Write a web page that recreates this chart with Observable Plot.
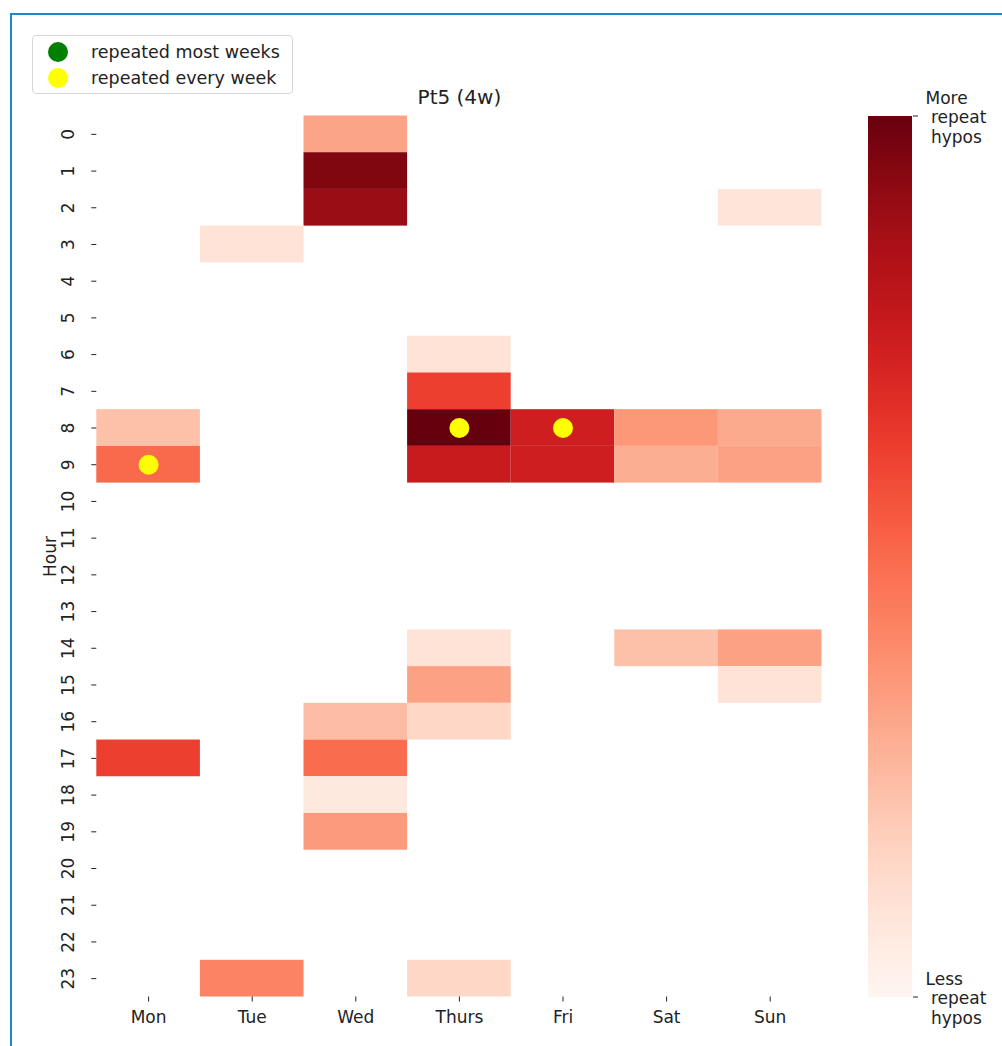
<!DOCTYPE html>
<html>
<head>
<meta charset="utf-8">
<script src="https://cdn.jsdelivr.net/npm/d3@7"></script>
<script src="https://cdn.jsdelivr.net/npm/@observablehq/plot@0.6"></script>
<style>
  html, body { margin: 0; padding: 0; background: #fff; }
  #wrap { position: relative; width: 1002px; height: 1046px; overflow: hidden; font-family: "DejaVu Sans", sans-serif; }
  #frame { position: absolute; left: 10px; top: 13px; width: 1100px; height: 1100px;
           border-left: 2px solid #1b8ac6; border-top: 2px solid #1b8ac6; }
  #main, #cbar { position: absolute; top: 0; }
  #main { left: 0; }
  #cbar { left: 868px; }
  #legend { position: absolute; left: 32px; top: 35px; width: 259px; height: 57px;
            border: 1px solid #d6d6d6; border-radius: 4px; background: rgba(255,255,255,0.85);
            font-size: 17.5px; color: #222; }
  .item { position: absolute; left: 0; height: 26px; display: flex; align-items: center; }
  .swatch { width: 20px; height: 20px; border-radius: 50%; margin-left: 15px; margin-right: 23px; }
</style>
</head>
<body>
<div id="wrap">
  <div id="frame"></div>
  <div id="main"></div>
  <div id="cbar"></div>
  <div id="legend"></div>
</div>
<script>
// Weekday columns and hour rows of the heatmap
const days = ["Mon", "Tue", "Wed", "Thurs", "Fri", "Sat", "Sun"];
const hours = [0, 1, 2, 3, 4, 5, 6, 7, 8, 9, 10, 11, 12, 13, 14, 15, 16, 17, 18, 19, 20, 21, 22, 23];

// Repeat-hypo intensity per filled cell (0 = less, 1 = more)
const cellDays  = ["Wed", "Wed", "Wed", "Sun", "Tue", "Thurs", "Thurs", "Mon", "Thurs", "Fri", "Sat", "Sun",
                   "Mon", "Thurs", "Fri", "Sat", "Sun", "Thurs", "Sat", "Sun", "Thurs", "Sun", "Wed", "Thurs",
                   "Mon", "Wed", "Wed", "Wed", "Tue", "Thurs"];
const cellHours = [0, 1, 2, 2, 3, 6, 7, 8, 8, 8, 8, 8,
                   9, 9, 9, 9, 9, 14, 14, 14, 15, 15, 16, 16,
                   17, 17, 18, 19, 23, 23];
const cellValues = [0.32, 0.95, 0.89, 0.09, 0.10, 0.10, 0.62, 0.23, 1.00, 0.74, 0.36, 0.30,
                    0.50, 0.76, 0.74, 0.29, 0.33, 0.10, 0.23, 0.33, 0.33, 0.10, 0.245, 0.15,
                    0.62, 0.49, 0.07, 0.35, 0.42, 0.15];

// Cells repeated every week
const everyWeekDays  = ["Mon", "Thurs", "Fri"];
const everyWeekHours = [9, 8, 8];

// Legend entries
const legendLabels = ["repeated most weeks", "repeated every week"];
const legendColors = ["#008000", "#ffff00"];

// Colour bar end labels
const cbarTicks  = [1, 0];
const cbarLabels = ["More\n\u00a0repeat\n\u00a0hypos", "Less\n\u00a0repeat\n\u00a0hypos"];

const cells = cellDays.map((d, i) => ({day: d, hour: cellHours[i], v: cellValues[i]}));
const everyWeek = everyWeekDays.map((d, i) => ({day: d, hour: everyWeekHours[i]}));

const FONT = "DejaVu Sans, sans-serif";
const colorScale = {type: "linear", scheme: "reds", domain: [0, 1]};

const main = Plot.plot({
  width: 1002,
  height: 1046,
  marginLeft: 96.3,
  marginRight: 180.5,
  marginTop: 115.5,
  marginBottom: 49.5,
  style: {fontFamily: FONT, fontSize: "17px", background: "transparent", color: "#222"},
  x: {type: "band", domain: days, padding: 0, round: false},
  y: {type: "band", domain: hours, padding: 0, round: false},
  color: colorScale,
  marks: [
    Plot.cell(cells, {x: "day", y: "hour", fill: "v", inset: 0}),
    Plot.dot(everyWeek, {x: "day", y: "hour", r: 10, fill: "#ffff00", stroke: null}),
    Plot.axisX({anchor: "bottom", tickSize: 5, tickPadding: 9, label: null}),
    Plot.axisY({anchor: "left", tickSize: 5, tickPadding: 18, tickRotate: -90, label: null}),
    Plot.text(["Hour"], {frameAnchor: "left", dx: -46, rotate: -90, textAnchor: "middle",
                         lineAnchor: "middle", fontSize: 17}),
    Plot.text(["Pt5 (4w)"], {frameAnchor: "top", dy: -18.5, lineAnchor: "middle", fontSize: 20})
  ]
});
document.getElementById("main").appendChild(main);

// Vertical colour bar
const steps = d3.range(256).map(i => ({y1: i / 256, y2: (i + 1) / 256, v: (i + 0.5) / 256}));
const cbar = Plot.plot({
  width: 134,
  height: 1046,
  marginLeft: 0,
  marginRight: 90,
  marginTop: 115.5,
  marginBottom: 49.5,
  style: {fontFamily: FONT, fontSize: "17px", background: "transparent", color: "#222"},
  x: {domain: [0, 1], axis: null},
  y: {domain: [0, 1], axis: null},
  color: colorScale,
  marks: [
    Plot.rect(steps, {x1: 0, x2: 1, y1: "y1", y2: "y2", fill: "v", inset: 0, shapeRendering: "crispEdges"}),
    Plot.axisY(cbarTicks, {anchor: "right", tickSize: 5, tickFormat: () => "", label: null}),
    Plot.text(cbarTicks, {y: d => d, text: (d, i) => cbarLabels[i], frameAnchor: "right",
                          dx: 13, dy: 1, textAnchor: "start", lineHeight: 1.15, fontSize: 17})
  ]
});
document.getElementById("cbar").appendChild(cbar);

// Legend box
const legend = document.getElementById("legend");
legendLabels.forEach((label, i) => {
  const item = document.createElement("div");
  item.className = "item";
  item.style.top = (3 + i * 26) + "px";
  const sw = document.createElement("div");
  sw.className = "swatch";
  sw.style.background = legendColors[i];
  const tx = document.createElement("span");
  tx.textContent = label;
  item.appendChild(sw);
  item.appendChild(tx);
  legend.appendChild(item);
});
</script>
</body>
</html>
